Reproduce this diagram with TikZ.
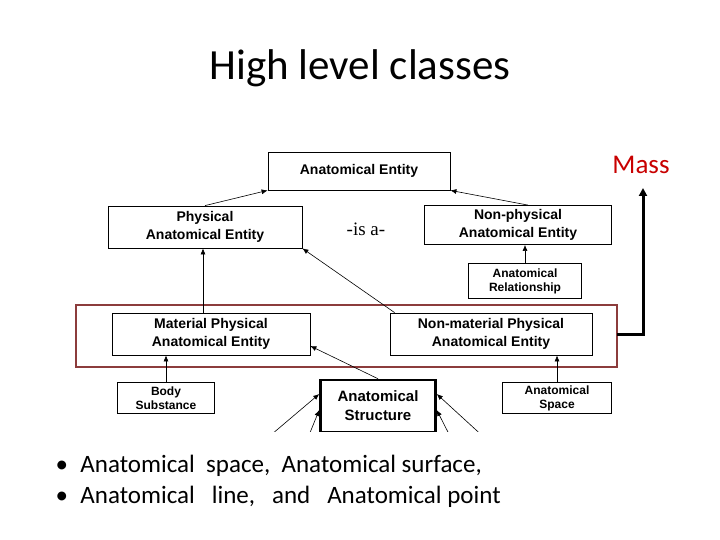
\documentclass[tikz,border=0pt]{standalone}
\usepackage{fontspec}
\setmainfont{Carlito}
\newfontfamily\boxfont{Liberation Sans}
\newfontfamily\isafont{Liberation Serif}
\usetikzlibrary{arrows.meta}
\tikzset{
  cls/.style={draw, thick, fill=white, inner sep=0pt, align=center,
    font=\boxfont\bfseries\fontsize{14}{18}\selectfont},
  small/.style={font=\boxfont\bfseries\fontsize{12}{14}\selectfont},
  isa/.style={-{Latex[length=6pt,width=5pt]}, semithick}
}
\begin{document}
\begin{tikzpicture}[x=1pt,y=-1pt]
  \useasboundingbox (0,0) rectangle (720,540);
  \node[font=\fontsize{43}{48}\selectfont] (title) at (360,68) {High level classes};
  % boxes
  \node[cls, minimum width=182, minimum height=38] (ae) at (359,171) {Anatomical Entity};
  \node[cls, minimum width=194, minimum height=42] (pae) at (205,227) {Physical\\Anatomical Entity};
  \node[cls, minimum width=187, minimum height=39] (npae) at (518,225) {Non-physical\\Anatomical Entity};
  \node[cls, small, minimum width=113, minimum height=35] (rel) at (525,281) {Anatomical\\Relationship};
  \draw[draw={rgb,255:red,140;green,60;blue,60}, line width=2pt] (76,305) rectangle (617,367);
  \coordinate (grp) at (617,334);
  \node[cls, minimum width=198, minimum height=42] (mpae) at (211,334) {Material Physical\\Anatomical Entity};
  \node[cls, minimum width=202, minimum height=42] (nmpae) at (491,334) {Non-material Physical\\Anatomical Entity};
  \node[cls, small, minimum width=97, minimum height=31] (body) at (166,398) {Body\\Substance};
  \node[cls, small, minimum width=109, minimum height=31] (space) at (557,398) {Anatomical\\Space};
  \begin{scope}
    \clip (0,0) rectangle (720,431);
    \node[cls, line width=2.5pt, minimum width=115, minimum height=52, font=\boxfont\bfseries\fontsize{15}{19}\selectfont] (as) at (378,406) {Anatomical\\Structure};
    \draw[isa] (265,440) -- (as.west |- 0,394);
    \draw[isa] (307,440) -- (as.west |- 0,410);
    \draw[isa] (487,440) -- (as.east |- 0,394);
    \draw[isa] (452,440) -- (as.east |- 0,410);
  \end{scope}
  \node[font=\isafont\fontsize{19}{22}\selectfont] (isatext) at (366,229) {-is a-};
  % is-a links
  \draw[isa] (pae.north) -- (ae.south west);
  \draw[isa] (npae.north) ++(10,0) -- (ae.south east);
  \draw[isa] (rel.north) -- (rel.north |- npae.south);
  \draw[isa] (mpae.north) ++(-8,0) -- ([xshift=-2]pae.south);
  \draw[isa] (nmpae.north west) ++(5,0) -- (pae.south east);
  \draw[isa] (body.north) -- (body.north |- mpae.south);
  \draw[isa] (as.north) -- ([yshift=-12]mpae.east);
  \draw[isa] (space.north) -- (space.north |- nmpae.south);
  % mass
  \node[text={rgb,255:red,200;green,0;blue,0}, font=\fontsize{27}{30}\selectfont] (mass) at (641,165) {Mass};
  \draw[line width=3pt, -{Triangle[length=8pt,width=8pt]}] (grp) -| (643,188);
  % bullets
  \node[anchor=west, font=\fontsize{25}{30}\selectfont] (b1) at (52,466) {\textbullet\enspace Anatomical\ \ space,\ \ Anatomical surface,};
  \node[anchor=west, font=\fontsize{25}{30}\selectfont] (b2) at (52,497) {\textbullet\enspace Anatomical\ \ \ line,\ \ \ and\ \ \ Anatomical point};
\end{tikzpicture}
\end{document}
